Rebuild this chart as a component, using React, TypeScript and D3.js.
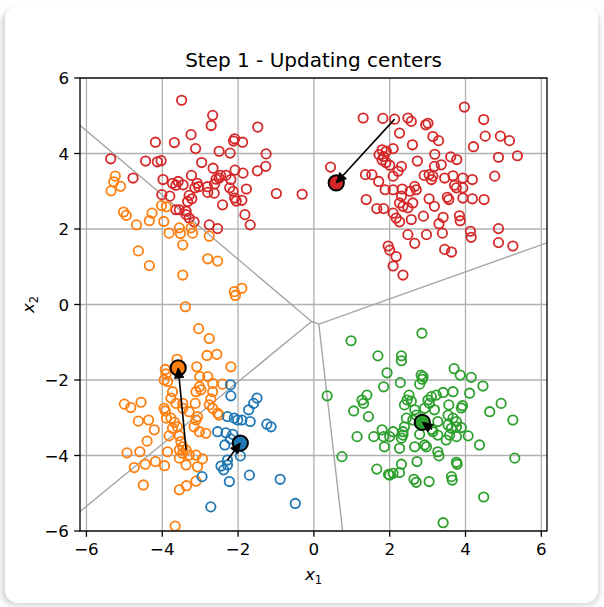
import * as d3 from 'd3';

type Pt = [number, number];

// cluster members (x1, x2)
const redPts: Pt[] = [
  [-3.49, 5.41], [-2.67, 5.01], [-2.71, 4.74], [-3.24, 4.5], [-4.18, 4.3], [-3.68, 4.29], [-3.12, 4.13],
  [-2.09, 4.39], [-2.12, 4.33], [-2.5, 4.06], [-2.21, 4.01], [-5.36, 3.86], [-4.44, 3.8], [-4.13, 3.78],
  [-4.03, 3.81], [-2.96, 3.76], [-2.66, 3.61], [-2.08, 3.56], [-3.23, 3.42], [-2.46, 3.42], [-4.77, 3.35],
  [-3.98, 3.31], [-3.73, 3.21], [-3.58, 3.26], [-3.45, 3.17], [-3.64, 3.16], [-3.08, 3.21], [-3.04, 3.12],
  [-3.14, 3.09], [-2.81, 3.12], [-2.8, 2.97], [-2.62, 3.19], [-2.58, 3.32], [-2.5, 3.35], [-2.32, 3.42],
  [-2.19, 3.31], [-2.22, 3.09], [-2.13, 3.0], [-2.09, 2.82], [-2.05, 2.74], [-2.63, 2.95], [-4.01, 2.91],
  [-3.8, 2.87], [-3.29, 2.89], [-3.22, 2.8], [-3.33, 2.73], [-2.41, 2.64], [-3.64, 2.51], [-3.55, 2.51],
  [-3.37, 2.47], [-3.37, 2.38], [-3.29, 2.29], [-3.16, 2.19], [-2.76, 2.11], [-2.54, 2.01],
  [-1.48, 4.7], [-1.88, 4.3], [-1.26, 3.99], [-1.87, 3.48], [-1.27, 3.66], [-1.49, 3.54], [-1.78, 3.06],
  [-1.9, 2.76], [-0.99, 2.94], [-0.31, 2.92], [-1.82, 2.38], [-1.68, 2.11],
  [1.3, 4.94], [1.82, 4.93], [0.44, 3.64], [1.72, 3.97], [1.8, 4.1], [1.84, 3.92], [1.8, 3.83], [1.9, 3.76],
  [1.91, 4.06], [2.09, 4.13], [2.0, 3.69], [1.36, 3.44], [1.53, 3.44], [1.71, 3.26], [1.88, 3.04],
  [1.38, 2.78], [1.66, 2.54], [1.84, 2.54],
  [3.97, 5.23], [2.13, 4.91], [2.48, 4.94], [2.57, 4.85], [4.48, 4.9], [2.95, 4.76], [3.01, 4.8],
  [2.26, 4.54], [3.14, 4.45], [3.29, 4.34], [4.52, 4.46], [4.92, 4.46], [5.16, 4.34], [2.6, 4.23],
  [4.21, 4.18], [3.19, 3.98], [3.61, 3.91], [3.77, 3.84], [4.87, 3.9], [5.37, 3.94], [2.73, 3.8],
  [2.31, 3.66], [2.22, 3.53], [2.09, 3.4], [3.18, 3.66], [3.36, 3.7], [2.91, 3.42], [3.04, 3.44],
  [3.14, 3.4], [3.1, 3.31], [3.45, 3.35], [3.67, 3.41], [3.93, 3.35], [4.18, 3.31], [4.77, 3.4],
  [3.71, 3.16], [3.93, 3.09], [3.76, 3.09], [2.09, 3.04], [2.33, 3.06], [2.54, 3.0], [2.66, 3.13],
  [2.7, 3.04], [2.31, 2.87], [2.26, 2.69], [2.35, 2.6], [2.48, 2.56], [2.61, 2.69], [3.04, 2.8],
  [3.18, 2.6], [3.52, 2.84], [3.56, 2.78], [3.93, 2.82], [4.18, 2.8], [4.49, 2.78], [2.09, 2.42],
  [2.17, 2.29], [2.26, 2.19], [2.57, 2.25], [2.89, 2.34], [3.41, 2.31], [3.3, 2.14], [3.84, 2.35],
  [3.86, 2.22], [4.87, 2.01], [2.48, 1.85], [2.97, 1.85], [3.39, 1.89], [4.13, 1.94], [4.15, 1.78],
  [2.66, 1.62], [4.87, 1.64], [5.25, 1.55], [3.45, 1.46], [3.63, 1.39], [1.96, 1.55], [2.0, 1.44],
  [2.17, 1.27], [2.09, 1.02], [2.35, 0.78],
];

const orangePts: Pt[] = [
  [-5.24, 3.4], [-5.28, 3.25], [-5.35, 3.01], [-5.1, 3.13], [-4.02, 2.62], [-3.89, 2.59], [-5.02, 2.45],
  [-4.95, 2.36], [-4.27, 2.42], [-4.34, 2.22], [-4.68, 2.11], [-3.96, 2.2], [-3.82, 1.89], [-3.55, 2.03],
  [-3.52, 1.88], [-3.24, 2.03], [-3.2, 1.89], [-2.76, 1.81],
  [-4.63, 1.42], [-4.34, 1.03], [-3.46, 1.58], [-3.46, 0.78], [-2.8, 1.21], [-2.54, 1.15], [-2.1, 0.34],
  [-2.07, 0.24], [-1.9, 0.43], [-3.39, -0.06], [-3.04, -0.64], [-2.76, -0.9], [-2.82, -1.35],
  [-2.56, -1.32], [-3.61, -1.45], [-3.09, -1.65], [-2.19, -1.65], [-3.92, -1.72], [-3.9, -1.84],
  [-3.95, -2.0], [-3.86, -2.04], [-3.01, -1.91], [-2.8, -1.91], [-2.67, -2.09], [-2.41, -2.11],
  [-3.02, -2.18],
  [-5.0, -2.64], [-4.83, -2.73], [-4.56, -2.59], [-4.63, -3.09], [-4.36, -3.06], [-4.21, -3.32],
  [-4.4, -3.62], [-4.93, -3.93], [-4.59, -3.9], [-4.74, -4.32], [-4.45, -4.23], [-4.18, -4.16],
  [-3.94, -4.27], [-4.5, -4.78], [-3.86, -3.9], [-3.55, -4.91], [-3.36, -4.8], [-3.11, -4.68],
  [-3.66, -5.87], [-3.95, -2.75], [-3.92, -2.82], [-3.89, -3.01], [-3.73, -2.31], [-3.77, -2.48],
  [-3.64, -2.62], [-3.46, -2.62], [-3.46, -2.75], [-3.29, -2.84], [-3.77, -3.01], [-3.68, -3.12],
  [-3.6, -3.24], [-3.73, -3.28], [-3.82, -3.48], [-3.51, -3.63], [-3.46, -3.77], [-3.55, -3.85],
  [-3.37, -3.85], [-3.29, -3.99], [-3.46, -3.94], [-3.55, -4.07], [-3.37, -4.25], [-3.11, -3.99],
  [-2.94, -4.09], [-3.07, -4.3], [-3.07, -2.97], [-3.11, -3.06], [-3.16, -3.24], [-3.02, -3.37],
  [-2.85, -3.41], [-3.11, -2.31], [-2.98, -2.26], [-2.67, -2.31], [-2.72, -2.5], [-2.76, -2.66],
  [-2.67, -2.75], [-2.54, -2.88], [-2.5, -2.93], [-3.13, -2.62], [-3.55, -3.48],
];

const bluePts: Pt[] = [
  [-2.19, -2.42], [-2.28, -2.97], [-2.1, -3.01], [-2.01, -3.06], [-2.54, -3.37], [-2.32, -3.4],
  [-2.14, -3.44], [-2.35, -3.72], [-2.45, -4.28], [-2.38, -4.38], [-2.28, -4.25], [-2.23, -4.69],
  [-2.95, -4.56], [-2.72, -5.36], [-2.28, -4.12], [-1.5, -2.48], [-1.59, -2.62], [-1.72, -2.79],
  [-1.9, -3.06], [-1.68, -3.1], [-1.24, -3.17], [-1.13, -3.24], [-1.94, -4.01], [-1.7, -4.52],
  [-0.89, -4.63], [-0.49, -5.27], [-2.2, -3.56], [-2.2, -2.13],
];

const greenPts: Pt[] = [
  [0.98, -0.96], [1.69, -1.36], [1.93, -1.81], [1.84, -2.18], [2.85, -0.76], [2.31, -1.36], [2.31, -1.49],
  [2.28, -2.07], [2.83, -1.87], [2.88, -1.91], [2.86, -1.98], [2.79, -2.11], [3.7, -1.7], [3.86, -1.87],
  [4.15, -1.93], [4.46, -2.16],
  [0.35, -2.42], [0.74, -4.03], [1.4, -2.4], [1.27, -2.53], [1.31, -2.62], [1.05, -2.82], [1.44, -2.97],
  [1.14, -3.5], [1.58, -3.5], [1.8, -3.32], [1.84, -3.5], [1.86, -3.77], [1.66, -4.36], [1.97, -4.5],
  [2.51, -2.4], [2.46, -2.53], [2.57, -2.56], [2.39, -2.66], [3.1, -2.44], [3.23, -2.4], [3.41, -2.33],
  [3.67, -2.31], [4.11, -2.35], [3.01, -2.53], [3.05, -2.62], [2.92, -2.75], [3.18, -2.79], [3.56, -2.66],
  [3.92, -2.68], [3.89, -2.74], [4.64, -2.84], [4.94, -2.62], [5.25, -3.06], [2.66, -2.79], [2.7, -2.93],
  [2.61, -3.06], [2.44, -3.01], [2.39, -3.24], [2.35, -3.37], [2.09, -3.37], [2.0, -3.5], [2.31, -3.54],
  [2.35, -3.46], [3.27, -3.1], [3.54, -2.93], [3.67, -3.01], [3.76, -3.1], [3.54, -3.19], [3.63, -3.28],
  [3.76, -3.24], [3.89, -3.26], [2.79, -3.44], [3.14, -3.37], [3.27, -3.46], [3.58, -3.46], [3.76, -3.5],
  [4.07, -3.48], [3.49, -3.59], [4.37, -3.72], [2.26, -3.81], [2.66, -3.77], [2.92, -3.72], [2.97, -3.77],
  [3.27, -3.9], [3.3, -4.01], [5.3, -4.07], [2.72, -4.16], [2.31, -4.23], [2.26, -4.45], [2.09, -4.47],
  [2.0, -4.52], [3.76, -4.18], [3.78, -4.23], [2.64, -4.63], [2.7, -4.71], [3.04, -4.69], [3.63, -4.56],
  [3.65, -4.65], [4.48, -5.1], [3.41, -5.78], [3.12, -3.31],
];

// centers before and after the update (red, orange, blue, green)
const oldCenters: Pt[] = [[2.13, 4.91], [-3.37, -3.85], [-2.28, -4.12], [3.12, -3.31]];
const newCenters: Pt[] = [[0.59, 3.22], [-3.58, -1.68], [-1.94, -3.67], [2.86, -3.12]];
const colors = ['#d62728', '#ff7f0e', '#1f77b4', '#2ca02c'];
const clusters = [redPts, orangePts, bluePts, greenPts];

const xTicks = [-6, -4, -2, 0, 2, 4, 6];
const yTicks = [-6, -4, -2, 0, 2, 4, 6];
const xLim: Pt = [-6.17, 6.15];
const yLim: Pt = [-6, 6];

const W = 604;
const H = 607;
const left = 80, right = 547, top = 78, bottom = 531;
const font = 'DejaVu Sans, sans-serif';

const fmt = (v: number) => (v < 0 ? '\u2212' + Math.abs(v) : String(v));

export default function App() {
  const xs = d3.scaleLinear().domain(xLim).range([left, right]);
  const ys = d3.scaleLinear().domain(yLim).range([bottom, top]);

  // voronoi boundaries of the new centers
  let vd = '';
  const ctx = {
    moveTo: (x: number, y: number) => { vd += `M${xs(x)},${ys(y)}`; },
    lineTo: (x: number, y: number) => { vd += `L${xs(x)},${ys(y)}`; },
    closePath: () => { vd += 'Z'; },
  };
  const vor = d3.Delaunay.from(newCenters).voronoi([xLim[0], yLim[0], xLim[1], yLim[1]]);
  vor.render(ctx as any);

  const arrows = oldCenters.map((o, i) => {
    const x0 = xs(o[0]), y0 = ys(o[1]);
    const x1 = xs(newCenters[i][0]), y1 = ys(newCenters[i][1]);
    const len = Math.hypot(x1 - x0, y1 - y0);
    const ux = (x1 - x0) / len, uy = (y1 - y0) / len;
    const hl = 10, hw = 4.6;
    const bx = x1 - ux * hl, by = y1 - uy * hl;
    const head = `M${x1},${y1}L${bx - uy * hw},${by + ux * hw}L${bx + uy * hw},${by - ux * hw}Z`;
    return { line: `M${x0},${y0}L${bx},${by}`, head };
  });

  return (
    <svg width={W} height={H} style={{ position: 'absolute', left: 0, top: 0 }} fontFamily={font}>
      <defs>
        <filter id="sh" x="-5%" y="-5%" width="110%" height="110%">
          <feGaussianBlur stdDeviation="2.5" />
        </filter>
        <clipPath id="plot">
          <rect x={left} y={top} width={right - left} height={bottom - top} />
        </clipPath>
      </defs>
      <rect x={0} y={0} width={W} height={H} fill="#fff" />
      <rect x={1} y={9} width={599} height={597} rx={14} fill="#d9d9d9" filter="url(#sh)" />
      <rect x={5} y={6} width={593} height={597} rx={13} fill="#fff" />

      <text x={(left + right) / 2} y={67} fontSize={20} textAnchor="middle" fill="#000">
        Step 1 - Updating centers
      </text>

      <g stroke="#b0b0b0" strokeWidth={1.3}>
        {xTicks.map((t) => (
          <line key={'gx' + t} x1={xs(t)} x2={xs(t)} y1={top} y2={bottom} />
        ))}
        {yTicks.map((t) => (
          <line key={'gy' + t} x1={left} x2={right} y1={ys(t)} y2={ys(t)} />
        ))}
      </g>

      <g clipPath="url(#plot)">
        <path d={vd} fill="none" stroke="#a6a6a6" strokeWidth={1.4} />
        {clusters.map((pts, ci) => (
          <g key={'c' + ci} fill="none" stroke={colors[ci]} strokeWidth={1.8}>
            {pts.map((p, i) => (
              <circle key={i} cx={xs(p[0])} cy={ys(p[1])} r={4.7} />
            ))}
          </g>
        ))}
        {newCenters.map((c, i) => (
          <circle key={'nc' + i} cx={xs(c[0])} cy={ys(c[1])} r={7.6} fill={colors[i]} stroke="#000" strokeWidth={2} />
        ))}
        {arrows.map((a, i) => (
          <g key={'a' + i}>
            <path d={a.line} stroke="#000" strokeWidth={1.6} fill="none" />
            <path d={a.head} fill="#000" stroke="#000" strokeWidth={1} />
          </g>
        ))}
      </g>

      <rect x={left} y={top} width={right - left} height={bottom - top} fill="none" stroke="#000" strokeWidth={1.3} />

      <g stroke="#000" strokeWidth={1.3}>
        {xTicks.map((t) => (
          <line key={'tx' + t} x1={xs(t)} x2={xs(t)} y1={bottom} y2={bottom + 5.8} />
        ))}
        {yTicks.map((t) => (
          <line key={'ty' + t} x1={left - 5.8} x2={left} y1={ys(t)} y2={ys(t)} />
        ))}
      </g>
      <g fontSize={16.7} fill="#000">
        {xTicks.map((t) => (
          <text key={'lx' + t} x={xs(t)} y={bottom + 24} textAnchor="middle">{fmt(t)}</text>
        ))}
        {yTicks.map((t) => (
          <text key={'ly' + t} x={left - 11} y={ys(t)} dy="0.36em" textAnchor="end">{fmt(t)}</text>
        ))}
      </g>

      <text x={(left + right) / 2} y={580} fontSize={16.7} textAnchor="middle">
        <tspan fontStyle="italic">x</tspan>
        <tspan fontSize={11.5} dy={4}>1</tspan>
      </text>
      <text transform={`translate(34,${(top + bottom) / 2}) rotate(-90)`} fontSize={16.7} textAnchor="middle">
        <tspan fontStyle="italic">x</tspan>
        <tspan fontSize={11.5} dy={4}>2</tspan>
      </text>
    </svg>
  );
}
